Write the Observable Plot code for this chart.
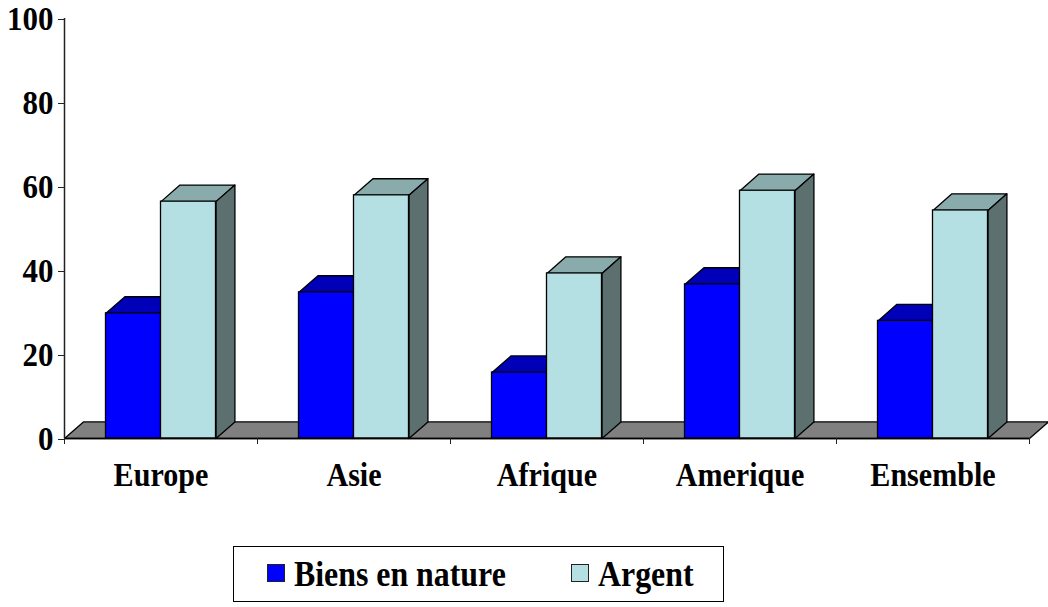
<!DOCTYPE html>
<html>
<head>
<meta charset="utf-8">
<script src="https://cdn.jsdelivr.net/npm/d3@7"></script>
<script src="https://cdn.jsdelivr.net/npm/@observablehq/plot@0.6"></script>
<style>
  html, body { margin: 0; padding: 0; background: #fff; overflow: hidden; }
  #chart svg { display: block; }
  #legend {
    box-sizing: border-box; position: absolute; left: 233px; top: 546px; width: 491px; height: 56px;
    border: 1.3px solid #000; background: #fff; color: #000;
    font: bold 35px "Liberation Serif", serif; line-height: 55px; white-space: nowrap;
  }
  #legend span.item { position: absolute; top: 0; transform: scaleX(0.91); transform-origin: 0 0; }
  #legend i { position: absolute; top: 17px; width: 16px; height: 16px; border: 1.3px solid #222; }
</style>
</head>
<body>
<div id="chart"></div>
<div id="legend"></div>
<script>
const categories = ["Europe", "Asie", "Afrique", "Amerique", "Ensemble"];
const biens = [29.8, 34.8, 15.7, 36.7, 28];
const argent = [56.4, 57.9, 39.3, 59, 54.3];
const seriesNames = ["Biens en nature", "Argent"];
const yTicks = [0, 20, 40, 60, 80, 100];

const halfWidth = 0.285, depthX = 0.098, depthY = 3.95;
const bars = categories.flatMap((c, i) => [
  {i, x1: i + 0.5 - halfWidth, x2: i + 0.5, v: biens[i]},
  {i, x1: i + 0.5, x2: i + 0.5 + halfWidth, v: argent[i]}
]);
const poly = (pts) => ({type: "Polygon", coordinates: [[...pts, pts[0]]]});
const top3d = b => poly([[b.x1, b.v], [b.x2, b.v], [b.x2 + depthX, b.v + depthY], [b.x1 + depthX, b.v + depthY]]);
const side3d = b => poly([[b.x2, 0], [b.x2 + depthX, depthY], [b.x2 + depthX, b.v + depthY], [b.x2, b.v]]);
const floor = poly([[0, 0], [5, 0], [5 + depthX, depthY], [depthX, depthY]]);

const edge = {stroke: "#000", strokeWidth: 1.3};
const series = (k) => bars.filter((_, j) => j % 2 === k);
const layer = (k, front, top, side) => [
  Plot.geo(series(k).map(top3d), {fill: top, ...edge}),
  Plot.geo(series(k).map(side3d), {fill: side, ...edge}),
  Plot.rect(series(k), {x1: "x1", x2: "x2", y1: 0, y2: "v", fill: front, ...edge})
];

const plot = Plot.plot({
  width: 1048, height: 520,
  marginLeft: 64, marginRight: 19, marginTop: 18, marginBottom: 82,
  x: {type: "linear", domain: [0, 5]},
  y: {domain: [0, 100]},
  style: {fontFamily: "Liberation Serif", fontWeight: "bold", background: "#fff", color: "#000", overflow: "visible"},
  marks: [
    Plot.geo([floor], {fill: "#808080", ...edge}),
    ...layer(0, "#0000ff", "#0000b8", "#00006e"),
    ...layer(1, "#b5e0e3", "#8aabab", "#5c7070"),
    Plot.ruleX([0], {y1: 0, y2: 100, stroke: "#222", strokeWidth: 1.5}),
    Plot.ruleY([0], {x1: 0, x2: 5, stroke: "#000", strokeWidth: 1.5}),
    Plot.axisY({ticks: yTicks, tickSize: 6, tickPadding: 5, fontSize: 34, dy: 1, label: null, stroke: "#222", fill: "#000"}),
    Plot.axisX({ticks: [0, 1, 2, 3, 4, 5], tickFormat: () => "", tickSize: 6, label: null, stroke: "#222"}),
    Plot.axisX({ticks: categories.map((_, i) => i + 0.5), tickFormat: d => categories[Math.floor(d)], tickSize: 0, tickPadding: 23, fontSize: 34, label: null, fill: "#000"})
  ]
});
document.getElementById("chart").append(plot);

// Narrow the glyphs: the reference's text is condensed, taller than it is wide.
plot.querySelectorAll("text").forEach(t => {
  const len = t.getComputedTextLength();
  if (len > 0) {
    const isNumber = /^\d+$/.test(t.textContent);
    t.setAttribute("textLength", len * (isNumber ? 0.91 : 0.885));
    t.setAttribute("lengthAdjust", "spacingAndGlyphs");
  }
});

const legendColors = ["#0000ff", "#b5e0e3"];
const legendX = [[33, 60], [337, 364]];
const legend = document.getElementById("legend");
seriesNames.forEach((name, k) => {
  const sw = document.createElement("i");
  sw.style.left = legendX[k][0] + "px";
  sw.style.background = legendColors[k];
  const t = document.createElement("span");
  t.className = "item";
  t.style.left = legendX[k][1] + "px";
  t.textContent = name;
  legend.append(sw, t);
});
</script>
</body>
</html>
